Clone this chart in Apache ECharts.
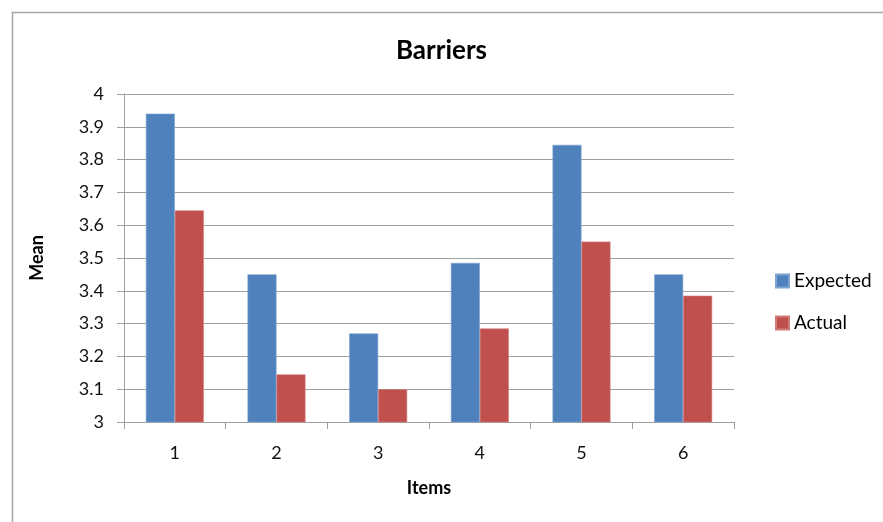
<!DOCTYPE html>
<html>
<head>
<meta charset="utf-8">
<script src="https://cdn.jsdelivr.net/npm/echarts@6/dist/echarts.min.js"></script>
<style>
html,body{margin:0;padding:0;background:#fff;}
#chart{width:883px;height:522px;}
</style>
</head>
<body>
<div id="chart"></div>
<script>
const categories = ['1', '2', '3', '4', '5', '6'];
const expected = [3.94, 3.45, 3.27, 3.485, 3.845, 3.45];
const actual = [3.645, 3.145, 3.1, 3.285, 3.55, 3.385];
const seriesNames = ['Expected', 'Actual'];

const FONT = 'Lato, "Open Sans", sans-serif';
const chart = echarts.init(document.getElementById('chart'), null, {renderer: 'canvas'});
chart.setOption({
  animation: false,
  backgroundColor: '#fff',
  graphic: [{
    type: 'rect',
    left: 10, top: 10,
    shape: {x: 0, y: 0, width: 900, height: 600},
    style: {fill: 'none', stroke: '#a6a6a6', lineWidth: 1.5},
    silent: true
  }],
  title: {
    text: 'Barriers',
    left: 'center',
    top: 33,
    textStyle: {fontFamily: FONT, fontWeight: 'bold', fontSize: 26, color: '#000'}
  },
  legend: {
    orient: 'vertical',
    left: 770,
    top: 266,
    itemWidth: 13,
    itemHeight: 13,
    itemGap: 22,
    icon: 'rect',
    data: seriesNames,
    textStyle: {fontFamily: FONT, fontSize: 19, color: '#000', lineHeight: 20}
  },
  grid: {left: 124, right: 149, top: 94, bottom: 100, containLabel: false},
  xAxis: {
    type: 'category',
    data: categories,
    name: 'Items',
    nameLocation: 'middle',
    nameGap: 57,
    nameTextStyle: {fontFamily: FONT, fontWeight: 'bold', fontSize: 18, color: '#000'},
    axisLine: {lineStyle: {color: '#a0a0a0', width: 1}},
    axisTick: {show: true, length: 7, lineStyle: {color: '#a0a0a0'}},
    axisLabel: {fontFamily: FONT, fontSize: 18, color: '#111', margin: 22}
  },
  yAxis: {
    type: 'value',
    min: 3, max: 4, interval: 0.1,
    name: 'Mean',
    nameLocation: 'middle',
    nameRotate: 90,
    nameGap: 78,
    nameTextStyle: {fontFamily: FONT, fontWeight: 'bold', fontSize: 18, color: '#000'},
    axisLine: {show: true, lineStyle: {color: '#a0a0a0', width: 1}},
    axisTick: {show: true, length: 7, lineStyle: {color: '#a0a0a0'}},
    axisLabel: {fontFamily: FONT, fontSize: 18, color: '#111', margin: 20,
      formatter: v => String(Math.round(v * 10) / 10)},
    splitLine: {show: true, lineStyle: {color: '#a0a0a0', width: 1}}
  },
  series: [
    {name: seriesNames[0], type: 'bar', data: expected, barGap: '0%', barCategoryGap: '43%',
     itemStyle: {color: '#4F81BD', borderColor: '#7ea3cf', borderWidth: 0.6}},
    {name: seriesNames[1], type: 'bar', data: actual, barGap: '0%', barCategoryGap: '43%',
     itemStyle: {color: '#C0504D', borderColor: '#d27c79', borderWidth: 0.6}}
  ]
});
</script>
</body>
</html>
